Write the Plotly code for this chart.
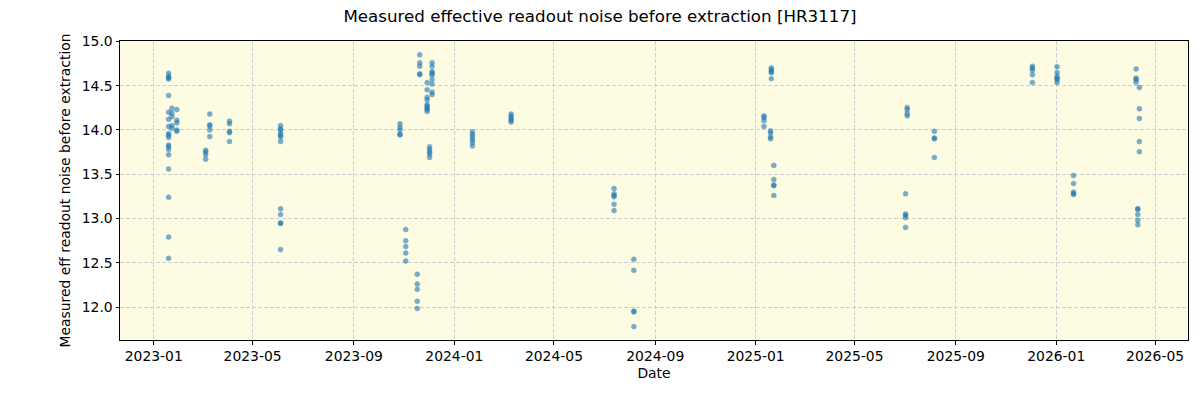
import plotly.graph_objects as go

# Observation dates (one per group of measurements)
group_dates = [
    "2023-01-19", "2023-01-23", "2023-01-29", "2023-03-05", "2023-03-10", "2023-04-03",
    "2023-06-04", "2023-10-27", "2023-11-03", "2023-11-17", "2023-11-20", "2023-11-29",
    "2023-12-02", "2023-12-05", "2024-01-23", "2024-03-10", "2024-07-13", "2024-08-06",
    "2025-01-11", "2025-01-19", "2025-01-20", "2025-01-23", "2025-07-02", "2025-07-04",
    "2025-08-06", "2025-12-03", "2026-01-02", "2026-01-22", "2026-04-08", "2026-04-12",
    "2026-04-10",
]

# Measured eff readout noise values for each date group
group_values = [
    [14.64, 14.605, 14.59, 14.575, 14.39, 14.20, 14.12, 14.04, 13.96, 13.94, 13.915,
     13.83, 13.81, 13.78, 13.72, 13.56, 13.24, 12.79, 12.55],
    [14.245, 14.19, 14.15, 14.05, 14.02],
    [14.23, 14.11, 14.08, 14.00, 13.985],
    [13.77, 13.75, 13.72, 13.67],
    [14.18, 14.06, 14.045, 14.00, 13.925],
    [14.10, 14.07, 13.985, 13.97, 13.87],
    [14.05, 14.015, 14.00, 13.96, 13.94, 13.92, 13.87, 13.11, 13.045, 12.95, 12.945, 12.65],
    [14.07, 14.03, 14.00, 13.95, 13.945],
    [12.875, 12.75, 12.685, 12.61, 12.52],
    [12.37, 12.26, 12.20, 12.065, 11.985],
    [14.85, 14.76, 14.72, 14.635, 14.625],
    [14.535, 14.455, 14.37, 14.34, 14.285, 14.27, 14.245, 14.235, 14.21],
    [13.81, 13.78, 13.75, 13.73, 13.69],
    [14.76, 14.72, 14.66, 14.64, 14.62, 14.57, 14.52, 14.43, 14.40],
    [13.98, 13.95, 13.92, 13.89, 13.86, 13.82],
    [14.18, 14.155, 14.13, 14.11, 14.09],
    [13.34, 13.28, 13.26, 13.245, 13.16, 13.09],
    [12.54, 12.415, 11.955, 11.945, 11.78],
    [14.16, 14.14, 14.105, 14.04],
    [13.99, 13.965, 13.92, 13.90],
    [14.70, 14.68, 14.66, 14.645, 14.58],
    [13.60, 13.44, 13.38, 13.37, 13.26],
    [13.28, 13.05, 13.035, 13.01, 12.90],
    [14.255, 14.23, 14.185, 14.16],
    [13.985, 13.91, 13.90, 13.69],
    [14.72, 14.70, 14.675, 14.625, 14.535],
    [14.715, 14.65, 14.605, 14.585, 14.57, 14.535],
    [13.485, 13.395, 13.30, 13.28, 13.27],
    [14.69, 14.585, 14.57, 14.54],
    [14.48, 14.24, 14.13, 13.87, 13.755],
    [13.11, 13.105, 13.045, 12.98, 12.93],
]

x_tick_vals = ["2023-01-01", "2023-05-01", "2023-09-01", "2024-01-01", "2024-05-01",
               "2024-09-01", "2025-01-01", "2025-05-01", "2025-09-01", "2026-01-01",
               "2026-05-01"]
x_tick_text = ["2023-01", "2023-05", "2023-09", "2024-01", "2024-05", "2024-09",
               "2025-01", "2025-05", "2025-09", "2026-01", "2026-05"]
y_tick_vals = [12.0, 12.5, 13.0, 13.5, 14.0, 14.5, 15.0]

xs, ys = [], []
for d, vals in zip(group_dates, group_values):
    for v in vals:
        xs.append(d)
        ys.append(v)

fig = go.Figure()
fig.add_trace(go.Scatter(
    x=xs, y=ys, mode="markers",
    marker=dict(size=5, color="#1f77b4", opacity=0.6,
                line=dict(width=0.5, color="#1f77b4")),
    showlegend=False,
))

font_family = "DejaVu Sans"
axis_common = dict(
    showline=True, linecolor="black", linewidth=1, mirror=True,
    ticks="outside", ticklen=3.5, tickcolor="black", tickwidth=1,
    showgrid=True, gridcolor="#d0d0d0", griddash="4px,2px", gridwidth=1,
    zeroline=False,
    tickfont=dict(family=font_family, size=13.9, color="black"),
)

fig.update_layout(
    width=1200, height=400,
    margin=dict(l=120, r=12, t=41, b=60),
    paper_bgcolor="white",
    plot_bgcolor="#FDFCE3",
    title=dict(text="Measured effective readout noise before extraction [HR3117]",
               x=0.5, xanchor="center", y=0.96, yanchor="middle",
               font=dict(family=font_family, size=16.7, color="black")),
    font=dict(family=font_family, color="black"),
)
fig.update_xaxes(
    **axis_common,
    type="date",
    range=["2022-11-21", "2026-06-10"],
    tickvals=x_tick_vals, ticktext=x_tick_text,
    title=dict(text="Date", font=dict(family=font_family, size=13.9), standoff=5),
)
fig.update_yaxes(
    **axis_common,
    range=[11.628, 15.005],
    tickvals=y_tick_vals, tickformat=".1f",
    title=dict(text="Measured eff readout noise before extraction",
               font=dict(family=font_family, size=13.9), standoff=7),
)

fig.write_html("out.html")
